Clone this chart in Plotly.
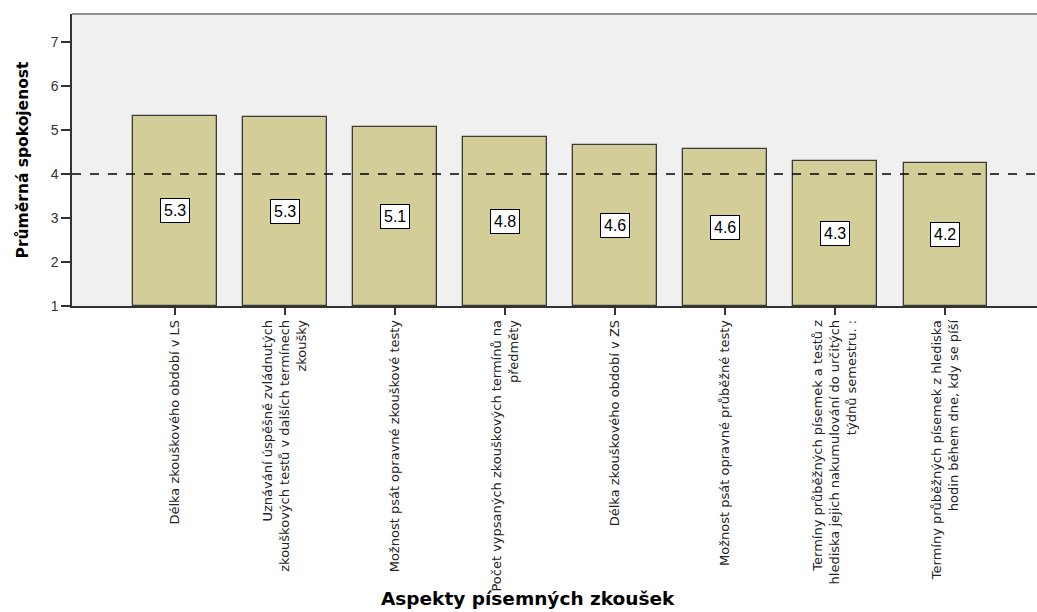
import plotly.graph_objects as go

categories = [
    "Délka zkouškového období v LS",
    "Uznávání úspěšně zvládnutých<br>zkouškových testů v dalších termínech<br>zkoušky",
    "Možnost psát opravné zkouškové testy",
    "Počet vypsaných zkouškových termínů na<br>předměty",
    "Délka zkouškového období v ZS",
    "Možnost psát opravné průběžné testy",
    "Termíny průběžných písemek a testů z<br>hlediska jejich nakumulování do určitých<br>týdnů semestru. :",
    "Termíny průběžných písemek z hlediska<br>hodin během dne, kdy se píší",
]
values = [5.32, 5.30, 5.07, 4.84, 4.65, 4.57, 4.30, 4.24]
value_labels = ["5.3", "5.3", "5.1", "4.8", "4.6", "4.6", "4.3", "4.2"]
reference_value = 4
y_title = "Průměrná spokojenost"
x_title = "Aspekty písemných zkoušek"

FONT = "Liberation Sans, Arial, sans-serif"
WIDE = "DejaVu Sans, sans-serif"
x_idx = list(range(len(categories)))

fig = go.Figure()
fig.add_trace(go.Bar(
    x=x_idx,
    y=[v - 1 for v in values],
    base=1,
    width=0.755,
    marker=dict(color="#D3CE97", line=dict(color="#3a3a3a", width=1.3)),
    hoverinfo="skip",
))

for i, (v, lab) in enumerate(zip(values, value_labels)):
    fig.add_annotation(
        x=i, y=(1 + v) / 2, xref="x", yref="y",
        text=lab, showarrow=False,
        font=dict(family=FONT, size=16, color="#000000"),
        bgcolor="#FFFFFF", bordercolor="#000000", borderwidth=1, borderpad=3,
    )

# reference line
fig.add_shape(type="line", xref="paper", yref="y", x0=0, x1=1,
              y0=reference_value, y1=reference_value,
              line=dict(color="#000000", width=1.5, dash="dash"))
# top border
fig.add_shape(type="line", xref="paper", yref="paper", x0=0, x1=1, y0=1, y1=1,
              line=dict(color="#707070", width=1.5))

fig.add_annotation(
    x=0.4725, y=-1.0, xref="paper", yref="paper",
    text="<b>" + x_title + "</b>", showarrow=False,
    font=dict(family=WIDE, size=18.5, color="#000000"),
    xanchor="center", yanchor="middle",
)

fig.update_layout(
    width=1037, height=612,
    margin=dict(l=72, r=0, t=14, b=306, autoexpand=False),
    paper_bgcolor="#FFFFFF",
    plot_bgcolor="#F0F0F0",
    showlegend=False,
    bargap=0,
    font=dict(family=FONT, color="#222222"),
)

fig.update_xaxes(
    range=[-0.936, 7.836],
    tickmode="array", tickvals=x_idx, ticktext=categories,
    tickangle=-90,
    ticks="outside", ticklen=7, tickcolor="#333333", tickwidth=1.5,
    tickfont=dict(family=WIDE, size=13, color="#222222"),
    showline=True, linecolor="#333333", linewidth=1.5,
    showgrid=False, zeroline=False, automargin=False,
)
fig.update_yaxes(
    range=[1, 7.636],
    tickmode="array", tickvals=[1, 2, 3, 4, 5, 6, 7],
    ticks="outside", ticklen=9, tickcolor="#333333", tickwidth=1.5,
    tickfont=dict(family=FONT, size=14, color="#333333"),
    showline=True, linecolor="#333333", linewidth=1.5,
    showgrid=False, zeroline=False, automargin=False,
    title=dict(text="<b>" + y_title + "</b>", font=dict(family=WIDE, size=15.5, color="#000000"), standoff=18),
)

fig.write_html("out.html")
